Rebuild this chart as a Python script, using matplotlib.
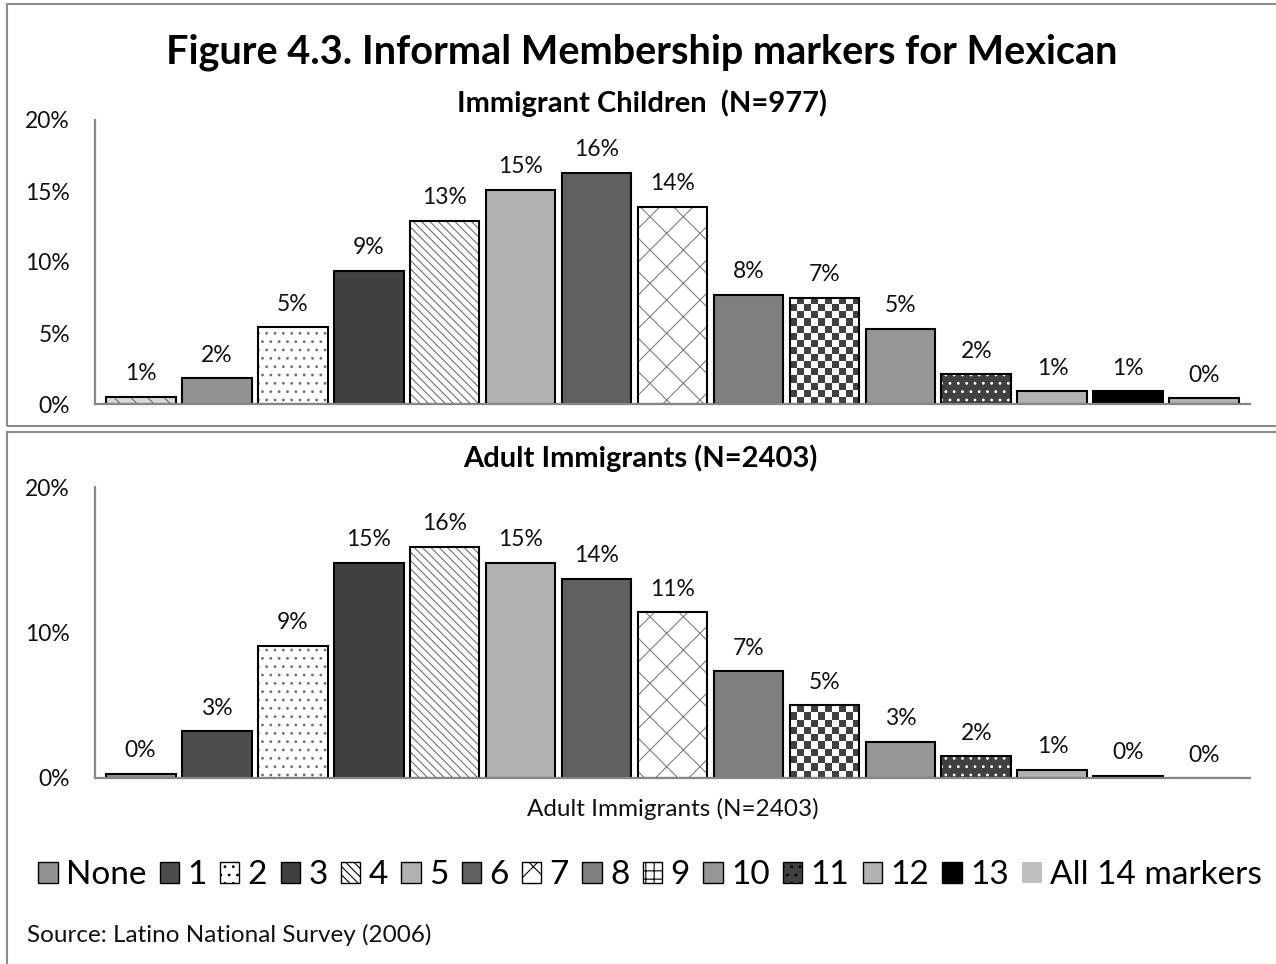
import matplotlib.pyplot as plt
import matplotlib.patches as mpatches
from matplotlib.colors import ListedColormap
import numpy as np

plt.rcParams['font.family'] = ['Lato', 'DejaVu Sans']
plt.rcParams['hatch.linewidth'] = 0.8

# data (percent of respondents by number of informal membership markers)
categories = ['None', '1', '2', '3', '4', '5', '6', '7', '8', '9', '10', '11', '12', '13', 'All 14 markers']
children = [0.5, 1.8, 5.4, 9.4, 12.9, 15.1, 16.3, 13.9, 7.7, 7.5, 5.3, 2.1, 0.9, 0.9, 0.4]
children_labels = ['1%', '2%', '5%', '9%', '13%', '15%', '16%', '14%', '8%', '7%', '5%', '2%', '1%', '1%', '0%']
adults = [0.3, 3.2, 9.1, 14.8, 15.9, 14.8, 13.7, 11.4, 7.35, 5.0, 2.5, 1.5, 0.55, 0.15, 0.0]
adult_labels = ['0%', '3%', '9%', '15%', '16%', '15%', '14%', '11%', '7%', '5%', '3%', '2%', '1%', '0%', '0%']

# bar styles
faces_top = ['#d9d9d9', '#939393', 'white', '#404040', 'white', '#b2b2b2', '#606060', 'white',
             '#7f7f7f', 'white', '#969696', '#404040', '#b2b2b2', '#000000', '#b2b2b2']
faces_bot = ['#939393', '#4d4d4d'] + faces_top[2:14] + ['#bfbfbf']
hatches = [None, None, '..', None, '\\' * 4, None, None, 'x', None, None, None, '..', None, None, None]
hatch_top0 = '\\\\'
hcolors = ['#707070', None, '#707070', None, '#707070', None, None, '#808080',
           None, None, None, 'white', None, None, None]
CHECKER = 9
TXT = '#111111'


def draw(ax, vals, labels, faces, hatch_list, ticks):
    x = np.arange(len(vals))
    fill = ax.bar(x, vals, width=0.92, color=faces, linewidth=0, zorder=2)
    for p, h, hc in zip(fill.patches, hatch_list, hcolors):
        if h:
            p.set_hatch(h)
            p.set_edgecolor(hc)
    edge = ax.bar(x, vals, width=0.92, fill=False, edgecolor='black', linewidth=1.5, zorder=3)
    ax.bar_label(edge, labels=labels, padding=9, fontsize=16.5, color=TXT)

    ax.set_xlim(-0.6, len(vals) - 0.4)
    ax.set_ylim(0, 20)
    ax.set_yticks(ticks)
    ax.set_yticklabels([f'{t}%' for t in ticks])
    ax.set_xticks([])
    ax.tick_params(axis='y', length=0, pad=18, labelsize=16.5, labelcolor=TXT)
    for s in ['top', 'right']:
        ax.spines[s].set_visible(False)
    for s in ['left', 'bottom']:
        ax.spines[s].set_color('#868686')
        ax.spines[s].set_linewidth(1.6)
        ax.spines[s].set_zorder(4)

    # checkerboard texture clipped to bar 9
    p = fill.patches[CHECKER]
    x0, y0, w, h = p.get_x(), p.get_y(), p.get_width(), p.get_height()
    (px0, py0), (px1, py1) = ax.transData.transform([(x0, y0), (x0 + w, y0 + h)])
    nx = max(1, int(round((px1 - px0) / 7)))
    ny = max(1, int(round((py1 - py0) / 7)))
    board = np.indices((ny, nx)).sum(0) % 2
    im = ax.imshow(board, extent=(x0, x0 + w, y0, y0 + h), origin='upper',
                   cmap=ListedColormap(['white', '#404040']), aspect='auto',
                   interpolation='nearest', zorder=2.5)
    im.set_clip_path(p)
    ax.set_xlim(-0.6, len(vals) - 0.4)
    ax.set_ylim(0, 20)
    return fill


W, H = 1276, 964
fig = plt.figure(figsize=(W / 100, H / 100), dpi=100)

ax1 = fig.add_axes([95 / W, 1 - 404 / H, (1250 - 95) / W, (404 - 120) / H])
ax2 = fig.add_axes([95 / W, 1 - 778 / H, (1250 - 95) / W, (778 - 487) / H])

draw(ax1, children, children_labels, faces_top, [hatch_top0] + hatches[1:], [0, 5, 10, 15, 20])
draw(ax2, adults, adult_labels, faces_bot, hatches, [0, 10, 20])
ax2.set_xlabel('Adult Immigrants (N=2403)', fontsize=17.5, labelpad=14, color=TXT)

# boxes around the two chart areas
fig.add_artist(mpatches.Rectangle((7 / W, 1 - 426 / H), 1.1, 422 / H, transform=fig.transFigure,
                                  fill=False, edgecolor='#8c8c8c', linewidth=1.5))
fig.add_artist(mpatches.Rectangle((7 / W, -0.1), 1.1, 0.1 + 1 - 432 / H, transform=fig.transFigure,
                                  fill=False, edgecolor='#8c8c8c', linewidth=1.5))

fig.text(0.503, 1 - 52 / H, 'Figure 4.3. Informal Membership markers for Mexican',
         ha='center', va='center', fontsize=28.5, fontweight='bold')
fig.text(0.503, 1 - 103 / H, 'Immigrant Children  (N=977)',
         ha='center', va='center', fontsize=21, fontweight='bold')
fig.text(0.502, 1 - 458 / H, 'Adult Immigrants (N=2403)',
         ha='center', va='center', fontsize=21, fontweight='bold')

# legend
handles = []
for i, name in enumerate(categories):
    if i == CHECKER:
        hp = mpatches.Patch(facecolor='white', edgecolor='black', hatch='++', linewidth=1, label=name)
    elif i == len(categories) - 1:
        hp = mpatches.Patch(facecolor=faces_bot[i], edgecolor='none', label=name)
    else:
        hp = mpatches.Patch(facecolor=faces_bot[i], edgecolor='black', hatch=hatches[i],
                            linewidth=1, label=name)
    handles.append(hp)
fig.legend(handles=handles, loc='center', bbox_to_anchor=(650 / W, 1 - 875 / H), ncol=15,
           frameon=False, fontsize=24, handlelength=0.58, handleheight=0.58,
           handletextpad=0.25, columnspacing=0.4, borderpad=0)

fig.text(27 / W, 1 - 935 / H, 'Source: Latino National Survey (2006)', ha='left', va='center',
         fontsize=17.5, color=TXT)

fig.savefig('out.png', dpi=100)
